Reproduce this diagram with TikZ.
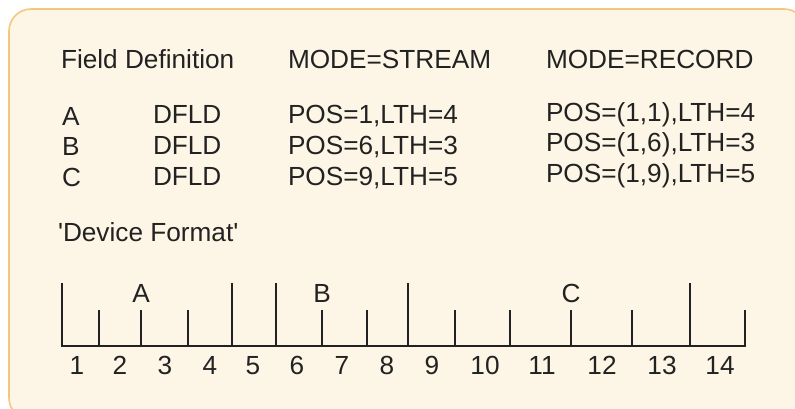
\documentclass[tikz,border=0pt]{standalone}
\usepackage{fontspec}
\setmainfont{Liberation Sans}
\newfontfamily\plainq{Liberation Sans}
\definecolor{panelfill}{HTML}{FDF6E6}
\definecolor{paneledge}{HTML}{F5C77E}
\definecolor{ink}{HTML}{222222}
\tikzset{
  txt/.style={inner sep=0pt, outer sep=0pt, text=ink, font=\fontsize{26.2}{30}\selectfont, anchor=base west},
  ctxt/.style={txt, anchor=base},
  ruler/.style={draw=ink, line width=1.8pt},
  tick/.style={draw=ink, line width=1.8pt, line cap=rect}
}
\begin{document}
\begin{tikzpicture}[x=1pt,y=-1pt]
\useasboundingbox (0,0) rectangle (795,408);
\path[fill=panelfill, draw=paneledge, line width=1.6pt, rounded corners=22pt] (9,9) rectangle (806,420);
% headers
\node[txt] (hfd) at (61,68) {Field Definition};
\node[txt] (hst) at (288,68) {MODE=STREAM};
\node[txt] (hrc) at (546,68) {MODE=RECORD};
% rows
\node[txt] (ra) at (62,125) {A};
\node[txt] (rb) at (62,155) {B};
\node[txt] (rc) at (62,186) {C};
\node[txt] (da) at (153,123) {DFLD};
\node[txt] (db) at (153,154) {DFLD};
\node[txt] (dc) at (153,185) {DFLD};
\node[txt] (sa) at (288,123) {POS=1,LTH=4};
\node[txt] (sb) at (288,154) {POS=6,LTH=3};
\node[txt] (sc) at (288,185) {POS=9,LTH=5};
\node[txt] (qa) at (546,121.5) {POS=(1,1),LTH=4};
\node[txt] (qb) at (546,151.5) {POS=(1,6),LTH=3};
\node[txt] (qc) at (546,182.5) {POS=(1,9),LTH=5};
\node[txt] (dev) at (58,241.5) {\plainq 'Device Format'};
% ruler
\coordinate (r0) at (62,346);
\coordinate (r1) at (745,346);
\draw[ruler] (r0) -- (r1);
\foreach \x in {62,232,276,408,690} {
  \draw[tick] (\x,346) -- (\x,284);
}
\foreach \x in {99,141,188,322,367,455,510,571,632,745} {
  \draw[tick] (\x,346) -- (\x,311);
}
\foreach \x/\n in {77/1,120/2,165/3,210/4,253/5,297/6,342/7,387/8,432/9,485/10,542/11,602/12,662/13,720/14} {
  \node[ctxt] (n\n) at (\x,374) {\n};
}
\node[ctxt] (la) at (141,302.5) {A};
\node[ctxt] (lb) at (322,302.5) {B};
\node[ctxt] (lc) at (571,302.5) {C};
\end{tikzpicture}
\end{document}
